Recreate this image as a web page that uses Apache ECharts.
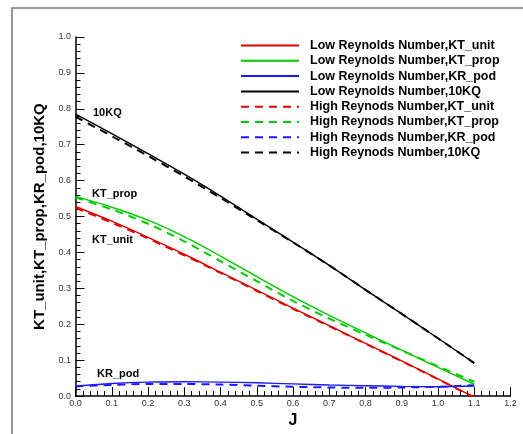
<!DOCTYPE html>
<html><head><meta charset="utf-8">
<script src="https://cdn.jsdelivr.net/npm/echarts@6/dist/echarts.min.js"></script>
<style>html,body{margin:0;padding:0;background:#fff}#c{width:523px;height:434px}</style>
</head><body><div id="c"></div>
<script>
const J = [0.0,0.1,0.2,0.3,0.4,0.5,0.6,0.7,0.8,0.9,1.0,1.1];
const xTicks = ['0.0','0.1','0.2','0.3','0.4','0.5','0.6','0.7','0.8','0.9','1.0','1.1','1.2'];
const yTicks = ['0.0','0.1','0.2','0.3','0.4','0.5','0.6','0.7','0.8','0.9','1.0'];

const lowKTunit  = [0.528,0.487,0.442,0.395,0.345,0.295,0.245,0.196,0.147,0.098,0.048,-0.003];
const lowKTprop  = [0.556,0.526,0.490,0.444,0.390,0.333,0.277,0.225,0.176,0.128,0.080,0.033];
const lowKRpod   = [0.028,0.035,0.039,0.040,0.039,0.037,0.034,0.031,0.029,0.027,0.026,0.028];
const low10KQ    = [0.785,0.731,0.675,0.618,0.557,0.493,0.429,0.364,0.296,0.229,0.161,0.092];
const highKTunit = [0.524,0.483,0.439,0.392,0.343,0.293,0.243,0.195,0.146,0.097,0.047,-0.004];
const highKTprop = [0.553,0.520,0.480,0.431,0.376,0.320,0.265,0.216,0.171,0.127,0.083,0.040];
const highKRpod  = [0.027,0.031,0.034,0.034,0.032,0.029,0.026,0.024,0.023,0.024,0.026,0.030];
const high10KQ   = [0.778,0.724,0.669,0.612,0.552,0.490,0.428,0.364,0.296,0.229,0.161,0.092];

const names = ['Low Reynolds Number,KT_unit','Low Reynolds Number,KT_prop','Low Reynolds Number,KR_pod','Low Reynolds Number,10KQ',
  'High Reynods Number,KT_unit','High Reynods Number,KT_prop','High Reynods Number,KR_pod','High Reynods Number,10KQ'];
const values = [lowKTunit,lowKTprop,lowKRpod,low10KQ,highKTunit,highKTprop,highKRpod,high10KQ];
const colors = ['#e00000','#00cc00','#1a1aff','#000000','#e00000','#00cc00','#1a1aff','#000000'];

const series = values.map((v,i)=>({
  name: names[i], type:'line', symbol:'none', smooth:0.3, clip:true,
  data: J.map((x,k)=>[x,v[k]]),
  lineStyle:{color:colors[i], width: i<4?1.4:2, type: i<4?'solid':[8,6]},
  itemStyle:{color:colors[i]},
  z: i<4?3:2
}));

const chart = echarts.init(document.getElementById('c'));
const axisCommon = {
  axisLine:{show:true,lineStyle:{color:'#000',width:1.5}},
  axisTick:{show:true,inside:true,length:9,lineStyle:{color:'#000',width:1}},
  minorTick:{show:true,splitNumber:5,length:5,lineStyle:{color:'#000',width:1}},
  splitLine:{show:false},
  axisLabel:{fontFamily:'Liberation Sans, Arial',fontSize:9,color:'#333',formatter:v=>v.toFixed(1)}
};
chart.setOption({
  animation:false,
  grid:{left:75.5,right:12.5,top:37,bottom:34},
  xAxis:Object.assign({type:'value',min:0,max:1.2,interval:0.1,name:'J',nameLocation:'middle',nameGap:16,
    nameTextStyle:{fontFamily:'Liberation Sans, Arial',fontWeight:'bold',fontSize:16,color:'#000'}},axisCommon,
    {axisLabel:Object.assign({},axisCommon.axisLabel,{margin:3})}),
  yAxis:Object.assign({type:'value',min:0,max:1,interval:0.1,name:'KT_unit,KT_prop,KR_pod,10KQ',nameLocation:'middle',nameGap:28,
    nameTextStyle:{fontFamily:'Liberation Sans, Arial',fontWeight:'bold',fontSize:15,color:'#000'}},axisCommon,
    {axisLabel:Object.assign({},axisCommon.axisLabel,{margin:4.5})}),
  legend:{orient:'vertical',left:235,top:34,itemWidth:58,itemHeight:10,itemGap:2.3,
    data:names,
    itemStyle:{opacity:0},
    textStyle:{fontFamily:'Liberation Sans, Arial',fontWeight:'bold',fontSize:12.5,color:'#000',padding:[0,0,0,6]}},
  graphic:[
    {type:'rect',shape:{x:12,y:8,width:520,height:440},style:{fill:'none',stroke:'#777',lineWidth:1.5},silent:true},
    {type:'text',x:93,y:113,style:{text:'10KQ',font:'bold 11px Liberation Sans, Arial',fill:'#000',verticalAlign:'middle'}},
    {type:'text',x:92,y:194,style:{text:'KT_prop',font:'bold 11px Liberation Sans, Arial',fill:'#000',verticalAlign:'middle'}},
    {type:'text',x:92,y:239.5,style:{text:'KT_unit',font:'bold 11px Liberation Sans, Arial',fill:'#000',verticalAlign:'middle'}},
    {type:'text',x:97,y:373.7,style:{text:'KR_pod',font:'bold 11px Liberation Sans, Arial',fill:'#000',verticalAlign:'middle'}}
  ],
  series:series
});
</script></body></html>
